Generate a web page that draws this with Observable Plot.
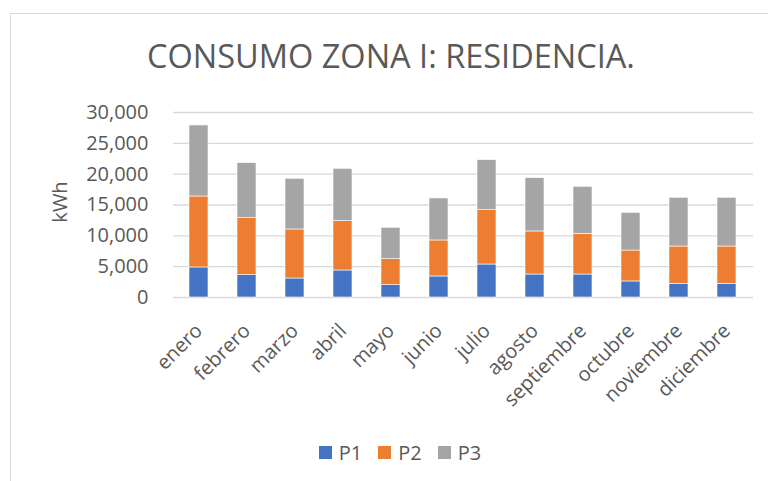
<!DOCTYPE html>
<html>
<head>
<meta charset="utf-8">
<script src="https://cdn.jsdelivr.net/npm/d3@7"></script>
<script src="https://cdn.jsdelivr.net/npm/@observablehq/plot@0.6"></script>
<style>
  html, body { margin: 0; padding: 0; background: #fff; }
  #wrap { position: relative; width: 768px; height: 481px; overflow: hidden; font-family: "Open Sans", "Liberation Sans", sans-serif; color: #595959; }
  #frame { position: absolute; left: 10px; top: 13px; width: 800px; height: 520px; border: 1px solid #d9d9d9; box-sizing: border-box; }
  #title { position: absolute; left: 0; width: 782px; top: 68px; text-align: center; font-size: 32.5px; line-height: 0; color: #595959; white-space: nowrap; }
  #title span { display: inline-block; transform: translateY(-0.36em); }
  #ylabel { position: absolute; left: 59px; top: 202px; transform: translate(-50%, -50%) rotate(-90deg); font-size: 20px; color: #595959; }
  #chart { position: absolute; left: 0; top: 95px; }
  #legend { position: absolute; left: 0; width: 800px; top: 439px; display: flex; justify-content: center; gap: 16px; font-size: 20px; color: #595959; }
  .item { display: flex; align-items: center; gap: 7px; }
  .sw { width: 13px; height: 13px; display: inline-block; }
</style>
</head>
<body>
<div id="wrap">
  <div id="frame"></div>
  <div id="title"><span>CONSUMO ZONA I: RESIDENCIA.</span></div>
  <div id="ylabel">kWh</div>
  <div id="chart"></div>
  <div id="legend"></div>
</div>
<script>
const months = ["enero","febrero","marzo","abril","mayo","junio","julio","agosto","septiembre","octubre","noviembre","diciembre"];
const seriesNames = ["P1","P2","P3"];
const seriesColors = ["#4472C4","#ED7D31","#A5A5A5"];
const p1 = [4870, 3620, 3080, 4380, 2000, 3410, 5350, 3730, 3730, 2600, 2220, 2220];
const p2 = [11510, 9250, 7950, 8000, 4220, 5840, 8820, 6980, 6600, 5020, 6050, 6050];
const p3 = [11520, 8920, 8220, 8490, 5080, 6810, 8110, 8650, 7620, 6110, 7900, 7900];
const yTicks = [0, 5000, 10000, 15000, 20000, 25000, 30000];

const seriesValues = [p1, p2, p3];
const data = [];
seriesNames.forEach((s, si) => months.forEach((m, mi) => data.push({month: m, serie: s, value: seriesValues[si][mi]})));

const fmt = d3.format(",");
const chart = Plot.plot({
  width: 768,
  height: 335,
  marginLeft: 173,
  marginRight: 15,
  marginTop: 17,
  marginBottom: 133,
  style: { fontFamily: '"Open Sans", "Liberation Sans", sans-serif', color: "#595959", background: "transparent" },
  x: { domain: months, paddingInner: 0.6, paddingOuter: 0.3, label: null, tickSize: 0, tickPadding: 30, tickRotate: -45 },
  y: { domain: [0, 30000], ticks: yTicks, tickFormat: fmt, label: null, tickSize: 0, tickPadding: 25 },
  color: { domain: seriesNames, range: seriesColors },
  marks: [
    Plot.ruleY(yTicks, { stroke: "#d9d9d9", strokeWidth: 1.3 }),
    Plot.barY(data, { x: "month", y: "value", fill: "serie", order: seriesNames, stroke: "#ffffff", strokeWidth: 0.6 }),
    Plot.axisX({ tickSize: 0, tickPadding: 30, tickRotate: -45, fontSize: 20, fill: "#595959" }),
    Plot.axisY({ ticks: yTicks, tickFormat: fmt, tickSize: 0, tickPadding: 25, fontSize: 20, fill: "#595959" })
  ]
});
document.getElementById("chart").appendChild(chart);

const legend = document.getElementById("legend");
seriesNames.forEach((s, i) => {
  const it = document.createElement("div");
  it.className = "item";
  it.innerHTML = `<span class="sw" style="background:${seriesColors[i]}"></span><span>${s}</span>`;
  legend.appendChild(it);
});
</script>
</body>
</html>
